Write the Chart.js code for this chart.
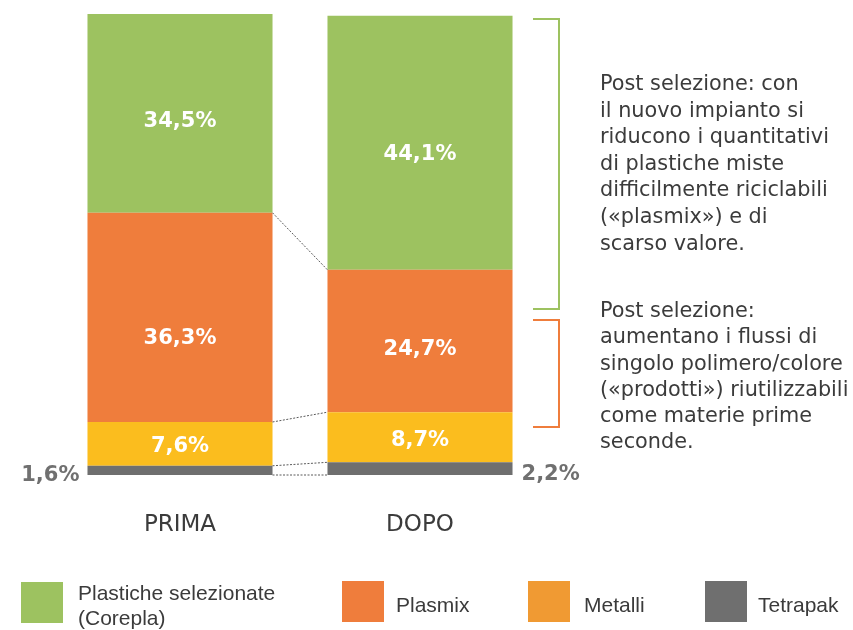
<!DOCTYPE html>
<html>
<head>
<meta charset="utf-8">
<script src="https://cdn.jsdelivr.net/npm/chart.js@4.4.1/dist/chart.umd.min.js"></script>
<style>
  html, body { margin: 0; padding: 0; background: #ffffff; }
  #wrap { position: relative; width: 853px; height: 630px; overflow: hidden; }
  #c { position: absolute; left: 0; top: 0; }
  .note { position: absolute; left: 600px; width: 253px; font-family: "DejaVu Sans", sans-serif; font-size: 20.8px; line-height: 26.6px; color: #3b3b3b; white-space: nowrap; }
  .bracket { position: absolute; left: 533px; width: 25px; border: 2px solid; border-left: none; }
  .lg-item { position: absolute; display: flex; align-items: flex-start; font-family: "Liberation Sans", Arial, sans-serif; font-size: 21px; line-height: 25px; color: #3b3b3b; }
  .lg-box { width: 42px; height: 41px; flex: none; }
</style>
</head>
<body>
<div id="wrap">
  <canvas id="c" width="853" height="630"></canvas>
  <div class="bracket" style="top:18px;height:288px;border-color:#9dc260;"></div>
  <div class="bracket" style="top:319px;height:105px;border-color:#ef7d3c;"></div>
  <div class="note" style="top:70px;">Post selezione: con<br>il nuovo impianto si<br>riducono i quantitativi<br>di plastiche miste<br>difficilmente riciclabili<br>(«plasmix») e di<br>scarso valore.</div>
  <div class="note" style="top:297px;line-height:26.3px;">Post selezione:<br>aumentano i flussi di<br>singolo polimero/colore<br>(«prodotti») riutilizzabili<br>come materie prime<br>seconde.</div>
  <div id="legend"></div>
</div>
<script>
// ---- data ----
const categories = ['PRIMA', 'DOPO'];
const seriesNames = ['Tetrapak', 'Metalli', 'Plasmix', 'Plastiche selezionate (Corepla)'];
const tetrapak  = [1.6, 2.2];
const metalli   = [7.6, 8.7];
const plasmix   = [36.3, 24.7];
const plastiche = [34.5, 44.1];

// ---- styles ----
const barColors    = ['#6f6f6f', '#fbbd1e', '#ef7d3c', '#9dc260'];
const legendColors = ['#6f6f6f', '#f09a33', '#ef7d3c', '#9dc260'];
const legendOrder  = [3, 2, 1, 0];
const legendLeft   = [21, 342, 528, 705];
const legendTop    = [582, 581, 581, 581];
const legendTextTop= [-2, 11, 11, 11];
const legendGap    = [15, 12, 14, 11];
const labelNudge   = [[3, 4], [0, 1.5], [19, 6], [6, 10]];

const seriesValues = [tetrapak, metalli, plasmix, plastiche];
const fmt = v => v.toFixed(1).replace('.', ',') + '%';

const overlay = {
  id: 'overlay',
  afterDatasetsDraw(chart) {
    const ctx = chart.ctx;
    const n = chart.data.datasets.length;
    // dotted connectors between the bars
    ctx.save();
    ctx.strokeStyle = '#5a5a5a';
    ctx.lineWidth = 1;
    ctx.setLineDash([2, 1.5]);
    for (let k = 0; k < n; k++) {
      const meta = chart.getDatasetMeta(k);
      const a = meta.data[0], b = meta.data[1];
      ctx.beginPath();
      ctx.moveTo(a.x + a.width / 2, a.base);
      ctx.lineTo(b.x - b.width / 2, b.base);
      ctx.stroke();
    }
    ctx.restore();
    // value labels
    ctx.save();
    ctx.font = 'bold 21px "DejaVu Sans"';
    ctx.textBaseline = 'alphabetic';
    const capHalf = 0.729 * 21 / 2;
    for (let k = 0; k < n; k++) {
      const meta = chart.getDatasetMeta(k);
      const vals = chart.data.datasets[k].data;
      meta.data.forEach((el, j) => {
        const cy = (el.y + el.base) / 2 + labelNudge[k][j] + capHalf;
        const txt = fmt(vals[j]);
        if (k === 0) {
          ctx.fillStyle = '#707070';
          if (j === 0) { ctx.textAlign = 'right'; ctx.fillText(txt, el.x - el.width / 2 - 8, cy); }
          else { ctx.textAlign = 'left'; ctx.fillText(txt, el.x + el.width / 2 + 9, cy); }
        } else {
          ctx.fillStyle = '#ffffff';
          ctx.textAlign = 'center';
          ctx.fillText(txt, el.x, cy);
        }
      });
    }
    ctx.restore();
  }
};

const chart = new Chart(document.getElementById('c'), {
  type: 'bar',
  data: {
    labels: categories,
    datasets: seriesNames.map((name, i) => ({
      label: name,
      data: seriesValues[i],
      backgroundColor: barColors[i],
      borderWidth: 0,
      barPercentage: 1,
      categoryPercentage: 0.771
    }))
  },
  options: {
    responsive: false,
    animation: false,
    devicePixelRatio: 1,
    layout: { padding: { left: 60, right: 313, top: 14, bottom: 96 } },
    plugins: { legend: { display: false }, tooltip: { enabled: false } },
    scales: {
      x: {
        stacked: true,
        grid: { display: false, drawTicks: false },
        border: { display: false },
        ticks: { color: '#3b3b3b', font: { family: 'DejaVu Sans', size: 23 }, padding: 36 },
        afterFit: s => { s.height = 59; }
      },
      y: { stacked: true, display: false, min: 0, max: 80 }
    }
  },
  plugins: [overlay]
});

// ---- HTML legend built from the series ----
const lg = document.getElementById('legend');
legendOrder.forEach((si, pos) => {
  const item = document.createElement('div');
  item.className = 'lg-item';
  item.style.left = legendLeft[pos] + 'px';
  item.style.top = legendTop[pos] + 'px';
  const box = document.createElement('div');
  box.className = 'lg-box';
  box.style.background = legendColors[si];
  const t = document.createElement('div');
  t.style.marginLeft = legendGap[pos] + 'px';
  t.style.marginTop = legendTextTop[pos] + 'px';
  if (si === 3) t.style.width = '215px';
  t.textContent = seriesNames[si];
  item.appendChild(box);
  item.appendChild(t);
  lg.appendChild(item);
});
</script>
</body>
</html>
